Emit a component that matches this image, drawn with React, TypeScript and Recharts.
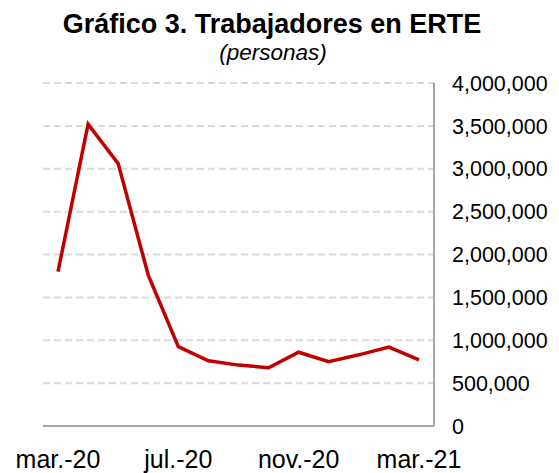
import React from 'react';
import { LineChart, Line, XAxis, YAxis, CartesianGrid } from 'recharts';

const months = [
  'mar.-20', 'abr.-20', 'may.-20', 'jun.-20', 'jul.-20', 'ago.-20', 'sep.-20',
  'oct.-20', 'nov.-20', 'dic.-20', 'ene.-21', 'feb.-21', 'mar.-21',
];
const workers = [
  1800000, 3520000, 3060000, 1760000, 925000, 760000, 710000,
  680000, 860000, 750000, 830000, 920000, 770000,
];
const yTicks = [0, 500000, 1000000, 1500000, 2000000, 2500000, 3000000, 3500000, 4000000];

const data = months.map((m, i) => ({ month: m, value: workers[i] }));

const FONT = '"Liberation Sans", Arial, sans-serif';

export default function App() {
  return (
    <div style={{ position: 'absolute', left: 0, top: 0, width: 559, height: 473, background: '#fff' }}>
      <LineChart
        width={559}
        height={473}
        data={data}
        margin={{ top: 83, right: 15, left: 43, bottom: 7 }}
      >
        <CartesianGrid vertical={false} stroke="#d9d9d9" strokeWidth={2} strokeDasharray="7 4" />
        <XAxis
          dataKey="month"
          interval={3}
          height={40}
          padding={{ left: 15, right: 15 }}
          axisLine={{ stroke: '#a6a6a6', strokeWidth: 2 }}
          tickLine={false}
          tickMargin={18}
          tick={{ fontSize: 25, fontFamily: FONT, fill: '#000' }}
        />
        <YAxis
          orientation="right"
          width={110}
          domain={[0, 4000000]}
          ticks={yTicks}
          interval={0}
          axisLine={{ stroke: '#a6a6a6', strokeWidth: 2 }}
          tickLine={false}
          tickMargin={12}
          tick={{ fontSize: 21.5, fontFamily: FONT, fill: '#000', textAnchor: 'start' }}
          tickFormatter={(v: number) => v.toLocaleString('en-US')}
        />
        <Line
          type="linear"
          dataKey="value"
          stroke="#c00000"
          strokeWidth={3.5}
          dot={false}
          activeDot={false}
          isAnimationActive={false}
        />
        <text x={272} y={33} textAnchor="middle" fontSize={27} fontWeight="bold" fontFamily={FONT} fill="#000">
          Gráfico 3. Trabajadores en ERTE
        </text>
        <text x={273} y={60} textAnchor="middle" fontSize={22.5} fontStyle="italic" fontFamily={FONT} fill="#000">
          (personas)
        </text>
      </LineChart>
    </div>
  );
}
